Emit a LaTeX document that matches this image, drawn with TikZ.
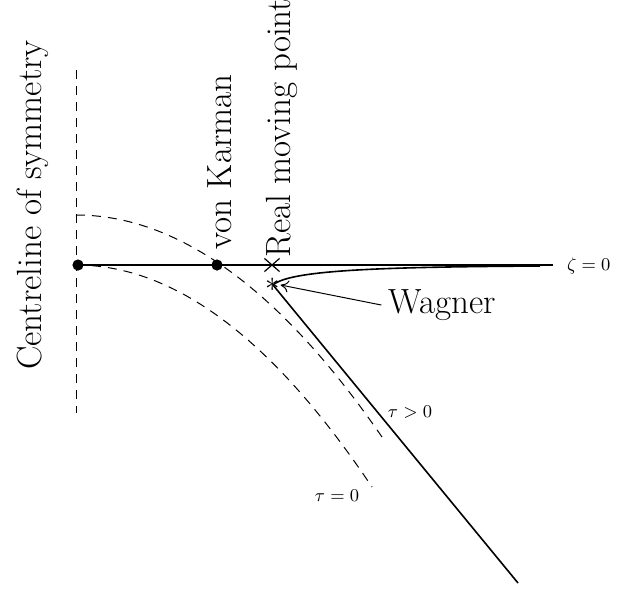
\documentclass[tikz,border=0pt]{standalone}
\usepackage{amsmath,amssymb}
\usetikzlibrary{arrows.meta,shapes.misc}

\begin{document}
\begin{tikzpicture}[x=0.5pt, y=-0.5pt,
  dot/.style={circle, fill=black, inner sep=0pt, minimum size=5.6pt},
  bigtxt/.style={font=\fontsize{17.5}{21}\selectfont},
  uplab/.style={bigtxt, rotate=90, anchor=base west, inner sep=0pt},
  smalltxt/.style={font=\fontsize{9.5}{11}\selectfont},
  guide/.style={dash pattern=on 4.5pt off 3.5pt, line width=0.5pt},
  arrow/.style={-{To[length=4pt,width=6pt]}, line width=0.5pt}
]
\useasboundingbox (0,0) rectangle (620,590);

% Centreline of symmetry
\coordinate (ctop) at (76,70);
\coordinate (cbot) at (76,413);
\draw[guide] (ctop) -- (cbot);
\node[uplab] (cl) at (41,370) {Centreline of symmetry};

% Free surface zeta = 0
\node[dot] (orig) at (78,265) {};
\coordinate (zend) at (553,265);
\draw[line width=1.4pt] (orig.center) -- (zend);
\node[smalltxt, anchor=west] (zeta) at (560,266) {$\zeta = 0$};

% Parabolas at tau = 0 and tau > 0
\coordinate (p0) at (76,215);
\coordinate (p1) at (382,437);
\coordinate (q0) at (76,265);
\coordinate (q1) at (372,487);
\draw[guide] (p0) .. controls (178,215) and (280,289) .. (p1);
\draw[guide] (q0) .. controls (175,265) and (273,339) .. (q1);
\node[smalltxt] (tpos) at (410,412) {$\tau > 0$};
\node[smalltxt] (tzero) at (337,496) {$\tau = 0$};

% Contact points
\node[dot] (vk) at (217,265) {};
\node[uplab] (vklab) at (231,250) {von Karman};
\node[draw, cross out, line width=0.6pt, minimum width=7pt, minimum height=6pt, inner sep=0pt] (rmp) at (272,265) {};
\node[uplab] (rmplab) at (290,258) {Real moving point};
\node[inner sep=0pt, font=\Large] (wg) at (273,285) {$\ast$};

% Body and jet root
\coordinate (jet) at (540,266);
\coordinate (tip) at (518,583);
\draw[line width=0.8pt] (jet) .. controls (380,267) and (290,270) .. (wg.center) -- (tip);

% Wagner label
\node[bigtxt] (wglab) at (442,305) {Wagner};
\draw[arrow] (wglab.west) -- (wg.east);

\end{tikzpicture}
\end{document}
